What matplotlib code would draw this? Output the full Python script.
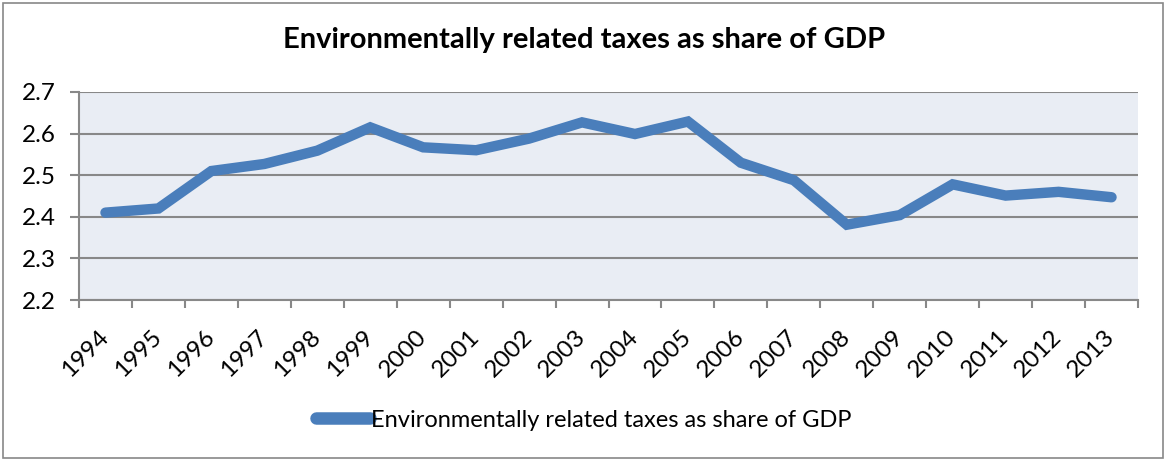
import matplotlib
matplotlib.use("Agg")
import matplotlib.pyplot as plt
from matplotlib.patches import Rectangle
from matplotlib.ticker import FixedLocator

plt.rcParams['font.family'] = ['Lato', 'DejaVu Sans']

years = [str(y) for y in range(1994, 2014)]
share = [2.41, 2.42, 2.51, 2.527, 2.559, 2.615, 2.567, 2.56, 2.588, 2.627,
         2.599, 2.629, 2.53, 2.488, 2.381, 2.404, 2.478, 2.451, 2.46, 2.447]
series_name = 'Environmentally related taxes as share of GDP'

LINE = '#4A7EBB'
GRID = '#888888'

fig = plt.figure(figsize=(11.68, 4.61), dpi=100)
ax = fig.add_axes([79 / 1168, 1 - 300 / 461, (1138 - 79) / 1168, (300 - 92) / 461])

x = list(range(len(years)))
ax.plot(x, share, color=LINE, lw=7.5, solid_capstyle='round',
        solid_joinstyle='miter', label=series_name, zorder=3)

ax.set_xlim(-0.5, len(years) - 0.5)
ax.set_ylim(2.2, 2.7)
yt = [2.2, 2.3, 2.4, 2.5, 2.6, 2.7]
ax.set_yticks(yt)
ax.set_yticklabels([f'{v:.1f}' for v in yt])
ax.set_facecolor('#E9EDF4')
ax.yaxis.grid(True, color=GRID, lw=1.5)
ax.set_axisbelow(True)

for s in ['top', 'right']:
    ax.spines[s].set_visible(False)
for s in ['left', 'bottom']:
    ax.spines[s].set_color(GRID)
    ax.spines[s].set_linewidth(1.5)

ax.set_xticks(x)
ax.set_xticklabels(years, rotation=45, ha='right', va='center',
                   rotation_mode='anchor')
ax.xaxis.set_minor_locator(FixedLocator([i - 0.5 for i in range(len(years) + 1)]))
ax.tick_params(axis='x', which='major', length=0, labelsize=17.5, pad=24)
ax.tick_params(axis='x', which='minor', length=6, width=1.5, color=GRID)
ax.tick_params(axis='y', length=6.5, width=1.5, color=GRID, labelsize=17.5, pad=10)

fig.text(0.5, 1 - 40 / 461, 'Environmentally related taxes as share of GDP',
         ha='center', va='center', fontsize=21, fontweight='bold')

leg = fig.legend(loc='center', bbox_to_anchor=(0.5, 1 - 420 / 461), frameon=False,
                 fontsize=17, handlelength=2.3, handletextpad=0.05)
leg.get_lines()[0].set_linewidth(9)

fig.patches.append(Rectangle((3 / 1168, 3 / 461), 1160 / 1168, 455 / 461,
                             transform=fig.transFigure, fill=False,
                             edgecolor='#888888', lw=1.2))

fig.savefig('out.png', dpi=100, facecolor='white')
